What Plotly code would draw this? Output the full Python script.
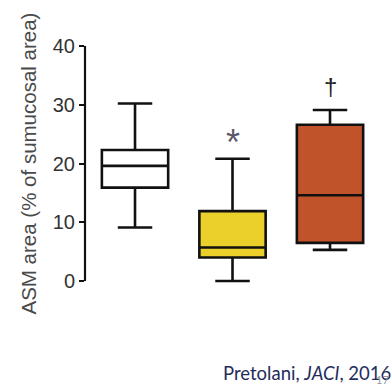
import plotly.graph_objects as go

groups = ["Control", "Group B", "Group C"]
lower = [9.1, 0.0, 5.3]
q1 = [15.9, 4.0, 6.5]
median = [19.6, 5.7, 14.6]
q3 = [22.3, 11.9, 26.6]
upper = [30.2, 20.8, 29.1]
fills = ["#FFFFFF", "#EBCF2B", "#C0532A"]
ytick_vals = [0, 10, 20, 30, 40]

fig = go.Figure()
for i, g in enumerate(groups):
    fig.add_trace(go.Box(
        x=[g], q1=[q1[i]], median=[median[i]], q3=[q3[i]],
        lowerfence=[lower[i]], upperfence=[upper[i]],
        fillcolor=fills[i], line=dict(color="#111111", width=2.6),
        width=0.68, whiskerwidth=0.52, boxpoints=False, showlegend=False,
        hoverinfo="skip",
    ))

fig.add_annotation(x=groups[1], y=23.6, text="*", showarrow=False,
                   font=dict(family="Liberation Sans", size=36, color="#5a5a6a"),
                   yanchor="middle")
fig.add_annotation(x=groups[2], y=33.1, text="†", showarrow=False,
                   font=dict(family="Liberation Sans", size=24, color="#222222"),
                   yanchor="middle")

fig.add_shape(type="line", xref="paper", yref="y", x0=0, x1=0, y0=0, y1=40,
              line=dict(color="#111111", width=2.2))

fig.add_annotation(xref="paper", yref="paper", x=-0.19, y=0.5,
                   text="ASM area (% of sumucosal area)", textangle=-90,
                   showarrow=False, xanchor="center", yanchor="middle",
                   font=dict(family="Liberation Sans", size=20.5, color="#4a4a4a"))

fig.add_annotation(xref="paper", yref="paper", x=1.025, y=-0.368,
                   text="Pretolani, <i>JACI</i>, 2016", showarrow=False,
                   xanchor="right", yanchor="middle",
                   font=dict(family="Lato", size=18.5, color="#1F2D5C"))
fig.add_annotation(xref="paper", yref="paper", x=0.99, y=-0.395,
                   text="17", showarrow=False, xanchor="center", yanchor="middle",
                   font=dict(family="Lato", size=11, color="#9a9a9a"))

fig.update_layout(
    width=392, height=387,
    margin=dict(l=85, r=7, t=43, b=103),
    paper_bgcolor="white", plot_bgcolor="white",
    xaxis=dict(range=[-0.513, 2.564], showticklabels=False, showgrid=False,
               zeroline=False, showline=False, ticks=""),
    yaxis=dict(range=[-0.5, 40.5], tickvals=ytick_vals, showgrid=False,
               zeroline=False, showline=False, ticks="outside", ticklen=5,
               tickwidth=2, tickcolor="#111111",
               tickfont=dict(family="Liberation Sans", size=20, color="#333333")),
)

fig.write_html("out.html")
